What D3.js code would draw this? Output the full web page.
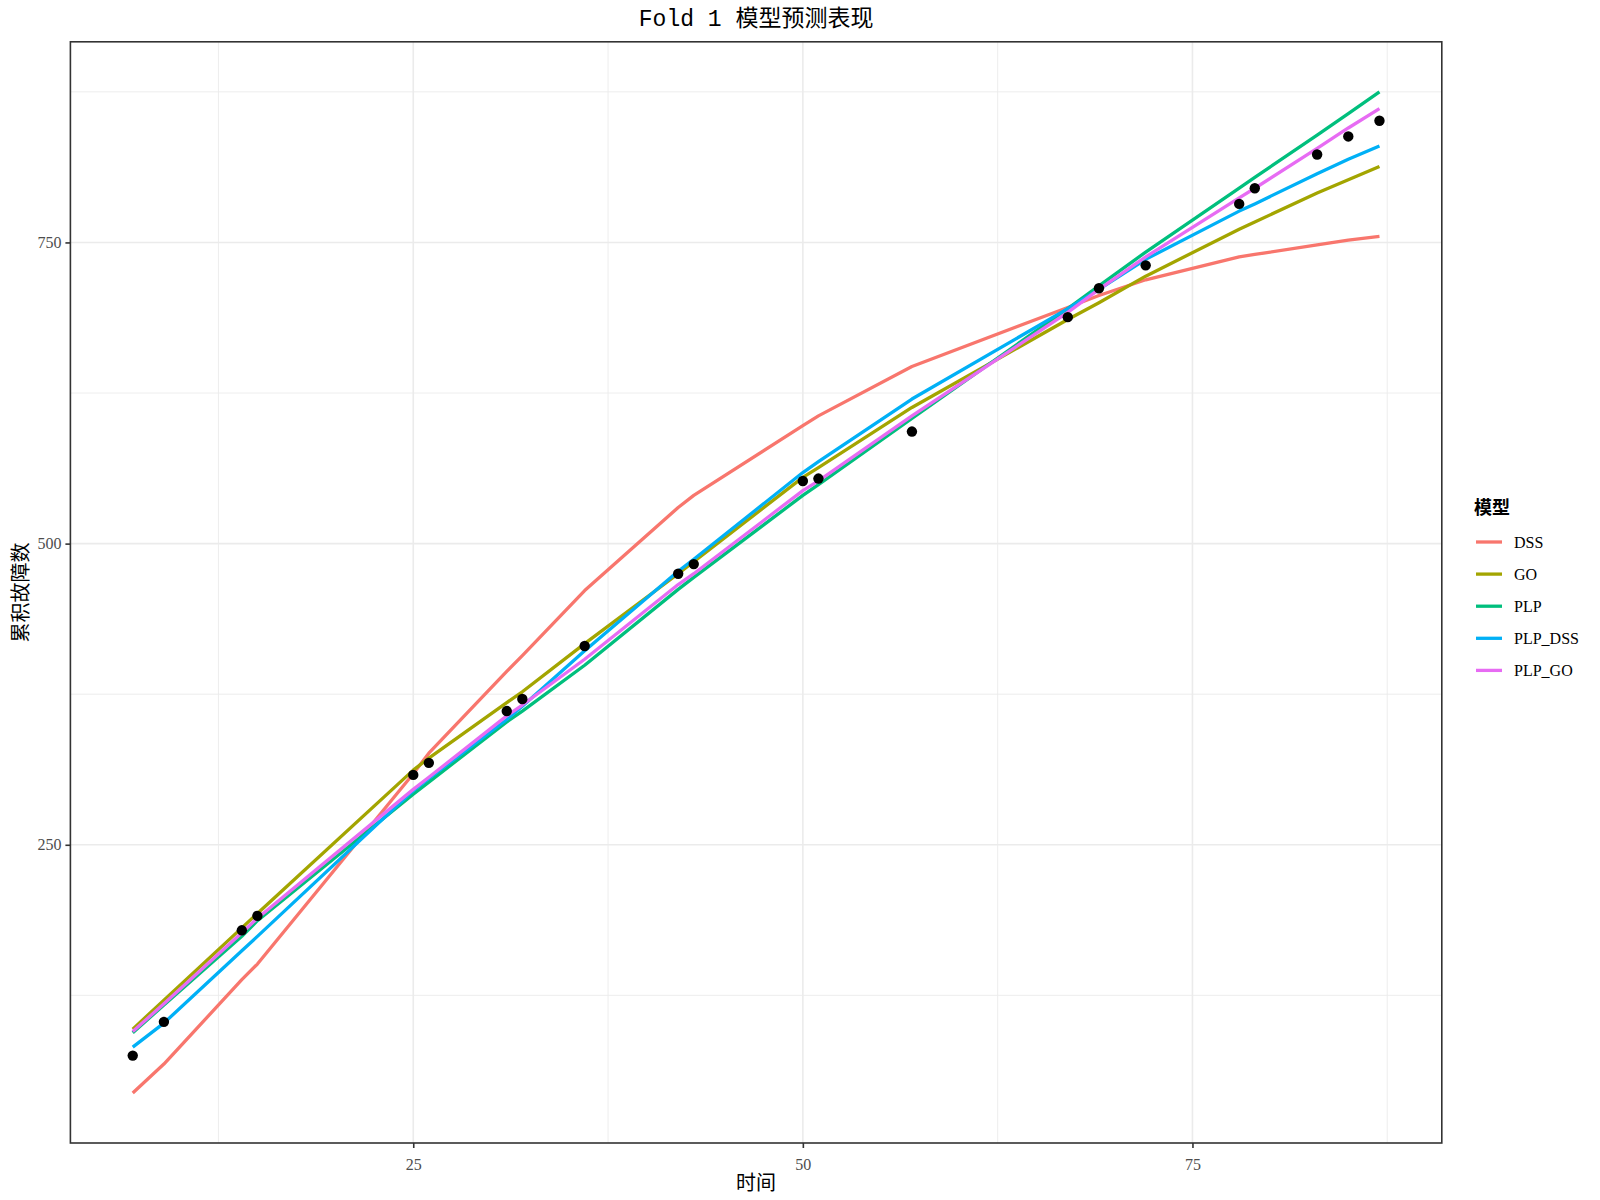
<!DOCTYPE html>
<html><head><meta charset="utf-8">
<script src="https://cdn.jsdelivr.net/npm/d3@7"></script>
<style>body{margin:0;background:#fff;}</style>
</head><body><svg id="c" width="1600" height="1200"></svg>
<script>
const times    = [7, 9, 14, 15, 25, 26, 31, 32, 36, 42, 43, 50, 51, 57, 67, 69, 72, 78, 79, 83, 85, 87];
const observed = [75, 103, 179, 191, 308, 318, 361, 371, 415, 475, 483, 552, 554, 593, 688, 712, 731, 782, 795, 823, 838, 851];
const predDSS    = [44, 68, 138, 151, 309, 326, 394, 407, 461, 530, 540, 598, 606, 647, 696, 706, 719, 738, 740, 748, 752, 755];
const predGO     = [97, 121, 181, 193, 312, 322, 368, 377, 417, 475, 485, 555, 563, 613, 686, 700, 722, 761, 767, 791, 802, 813];
const predPLP    = [94, 117, 174, 187, 292, 302, 352, 361, 399, 462, 472, 540, 549, 604, 695, 714, 742, 795, 804, 839, 857, 875];
const predPLPDSS = [82, 102, 162, 174, 295, 305, 354, 365, 411, 477, 487, 559, 568, 620, 695, 711, 736, 776, 782, 807, 819, 830];
const predPLPGO  = [95, 118, 177, 189, 296, 306, 357, 366, 404, 466, 475, 544, 552, 606, 692, 711, 738, 787, 795, 828, 845, 861];
const modelNames = ["DSS", "GO", "PLP", "PLP_DSS", "PLP_GO"];
const modelColors = ["#F8766D", "#A3A500", "#00BF7D", "#00B0F6", "#E76BF3"];
const xTicks = [25, 50, 75];
const yTicks = [250, 500, 750];
const xMinor = [12.5, 37.5, 62.5, 87.5];
const yMinor = [125, 375, 625, 875];
const titleText = "Fold 1 模型预测表现";
const xLabel = "时间";
const yLabel = "累积故障数";
const legendTitle = "模型";

const series = [predDSS, predGO, predPLP, predPLPDSS, predPLPGO].map((v, i) => ({
  name: modelNames[i], color: modelColors[i], values: v.map((y, j) => ({x: times[j], y}))
}));

const svg = d3.select("#c");
const P = {l: 70.4, r: 1441.8, t: 41.8, b: 1143};
const serifF = "'Liberation Serif', 'Noto Sans CJK SC', serif";
const cjkF = "'Noto Sans CJK SC', sans-serif";

function expand(ext) { const d = ext[1] - ext[0]; return [ext[0] - 0.05 * d, ext[1] + 0.05 * d]; }
const xExt = d3.extent(times);
const allY = observed.concat(...series.map(s => s.values.map(d => d.y)));
const yExt = d3.extent(allY);
const x = d3.scaleLinear().domain(expand(xExt)).range([P.l, P.r]);
const y = d3.scaleLinear().domain(expand(yExt)).range([P.b, P.t]);

svg.append("rect").attr("x", 0).attr("y", 0).attr("width", 1600).attr("height", 1200).attr("fill", "#fff");

const grid = svg.append("g");
grid.selectAll(".xm").data(xMinor).enter().append("line")
  .attr("x1", d => x(d)).attr("x2", d => x(d)).attr("y1", P.t).attr("y2", P.b)
  .attr("stroke", "#EBEBEB").attr("stroke-width", 0.9);
grid.selectAll(".ym").data(yMinor).enter().append("line")
  .attr("y1", d => y(d)).attr("y2", d => y(d)).attr("x1", P.l).attr("x2", P.r)
  .attr("stroke", "#EBEBEB").attr("stroke-width", 0.9);
grid.selectAll(".xM").data(xTicks).enter().append("line")
  .attr("x1", d => x(d)).attr("x2", d => x(d)).attr("y1", P.t).attr("y2", P.b)
  .attr("stroke", "#EBEBEB").attr("stroke-width", 1.6);
grid.selectAll(".yM").data(yTicks).enter().append("line")
  .attr("y1", d => y(d)).attr("y2", d => y(d)).attr("x1", P.l).attr("x2", P.r)
  .attr("stroke", "#EBEBEB").attr("stroke-width", 1.6);

const line = d3.line().x(d => x(d.x)).y(d => y(d.y));
svg.append("g").selectAll("path").data(series).enter().append("path")
  .attr("d", d => line(d.values)).attr("fill", "none")
  .attr("stroke", d => d.color).attr("stroke-width", 3.3)
  .attr("stroke-linejoin", "round").attr("stroke-linecap", "butt");

svg.append("g").selectAll("circle").data(times.map((t, i) => ({x: t, y: observed[i]}))).enter()
  .append("circle").attr("cx", d => x(d.x)).attr("cy", d => y(d.y)).attr("r", 5.2).attr("fill", "#000");

svg.append("rect").attr("x", P.l).attr("y", P.t).attr("width", P.r - P.l).attr("height", P.b - P.t)
  .attr("fill", "none").attr("stroke", "#333333").attr("stroke-width", 1.6);

const xAxis = svg.append("g").attr("transform", `translate(0,${P.b})`)
  .call(d3.axisBottom(x).tickValues(xTicks).tickSize(5).tickPadding(11).tickFormat(d3.format("d")));
const yAxis = svg.append("g").attr("transform", `translate(${P.l},0)`)
  .call(d3.axisLeft(y).tickValues(yTicks).tickSize(5).tickPadding(4).tickFormat(d3.format("d")));
[xAxis, yAxis].forEach(a => {
  a.select(".domain").remove();
  a.selectAll(".tick line").attr("stroke", "#333333").attr("stroke-width", 1.6);
  a.selectAll(".tick text").attr("fill", "#4D4D4D").style("font-family", serifF).style("font-size", "16px");
});

svg.append("text").attr("x", (P.l + P.r) / 2).attr("y", 20).attr("text-anchor", "middle")
  .attr("dominant-baseline", "central")
  .style("font-family", "'Liberation Mono', 'Noto Sans CJK SC', monospace").style("font-size", "23px")
  .attr("fill", "#000").text(titleText);
svg.append("text").attr("x", (P.l + P.r) / 2).attr("y", 1181).attr("text-anchor", "middle")
  .attr("dominant-baseline", "central").style("font-family", cjkF).style("font-size", "20px")
  .attr("fill", "#000").text(xLabel);
svg.append("text").attr("transform", `translate(19,${(P.t + P.b) / 2}) rotate(-90)`).attr("text-anchor", "middle")
  .attr("dominant-baseline", "central").style("font-family", cjkF).style("font-size", "20px")
  .attr("fill", "#000").text(yLabel);

const lg = svg.append("g");
lg.append("text").attr("x", 1474).attr("y", 506).attr("dominant-baseline", "central")
  .style("font-family", cjkF).style("font-size", "18px").style("font-weight", "bold").attr("fill", "#000").text(legendTitle);
const items = lg.selectAll(".it").data(series).enter().append("g")
  .attr("transform", (d, i) => `translate(0,${542 + i * 32.1})`);
items.append("line").attr("x1", 1476).attr("x2", 1502).attr("y1", 0).attr("y2", 0)
  .attr("stroke", d => d.color).attr("stroke-width", 3.3);
items.append("text").attr("x", 1514).attr("y", 0).attr("dominant-baseline", "central")
  .style("font-family", serifF).style("font-size", "16px").attr("fill", "#000").text(d => d.name);
</script>
</body></html>
